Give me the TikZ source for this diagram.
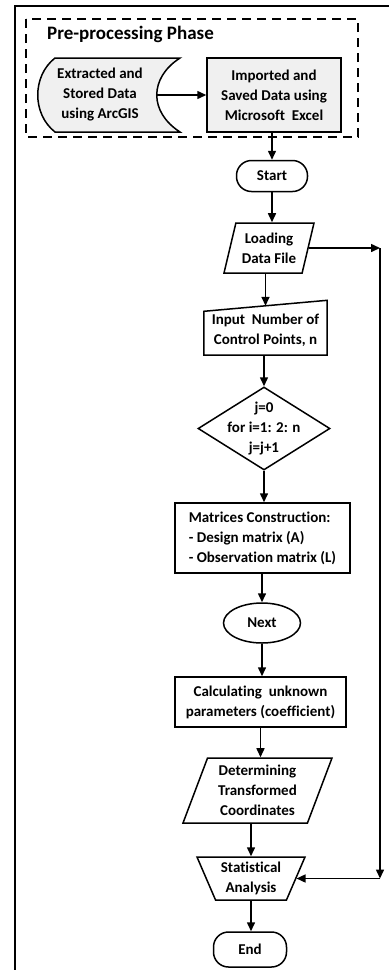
\documentclass[tikz,border=0pt]{standalone}
\usepackage{fontspec}
\setmainfont{Carlito}[Ligatures={NoCommon}]
\usetikzlibrary{shapes.geometric,arrows.meta,calc}

\tikzset{
  txt/.style={font=\bfseries\fontsize{15}{20}\selectfont, align=center},
  box/.style={txt, draw, line width=1.5pt, rectangle, inner sep=0pt},
  terminal/.style={box, rounded corners=15pt},
  ioshape/.style={txt, draw, line width=1.5pt, trapezium, trapezium stretches body, inner xsep=0pt, inner ysep=1pt},
  arr/.style={-{Triangle[length=9pt,width=8pt]}, line width=1.5pt},
}

\begin{document}
\begin{tikzpicture}[x=1pt,y=-1pt]
    \useasboundingbox (0,0) rectangle (389,970);
    % frame of the cell
    \draw[line width=1.8pt] (15,970) -- (15,6) -- (389,6);

    % pre-processing phase
    \draw[line width=1.6pt, dash pattern=on 9pt off 6pt] (26,19) rectangle (358,137);
    \node[txt, font=\bfseries\fontsize{19}{22}\selectfont, anchor=west, inner xsep=0pt] (phase) at (47,34) {Pre-processing Phase};
    \draw[line width=1.5pt, fill=black!6] (55,58) -- (180,58)
        .. controls (149,78) and (149,112) .. (180,132) -- (55,132)
        .. controls (32,114) and (32,76) .. (55,58) -- cycle;
    \node[txt] (stored) at (100,95) {Extracted and\\Stored Data\\using ArcGIS};
    \coordinate (storedR) at (157,95);
    \node[box, fill=black!6, minimum width=134pt, minimum height=74pt] (imported) at (274,95) {Imported and\\Saved Data using\\Microsoft\ \ Excel};

    % main flow
    \node[terminal, minimum width=71pt, minimum height=31pt] (start) at (272,176) {Start};
    \node[ioshape, trapezium left angle=70, trapezium right angle=110, minimum width=90pt, minimum height=50pt] (load) at (269,248) {Loading\\Data File};
    \node[txt, minimum width=123pt, minimum height=49pt, inner sep=0pt] (input) at (265.5,330.5) {Input\ \ Number of\\Control Points, n};
    \draw[line width=1.5pt] ($(input.north west)+(0,5.5)$) -- (input.south west)
        -- (input.south east) -- ($(input.north east)+(0,-5.5)$) -- cycle;
    \node[draw, diamond, line width=1.5pt, minimum width=132pt, minimum height=83pt, inner sep=0pt,
        label={[txt]center:{j=0\\for i=1: 2: n\\j=j+1}}] (loop) at (264,428.5) {};
    \node[box, minimum width=175pt, minimum height=70pt, align=left] (mat) at (262.5,538) {Matrices Construction:\\- Design matrix (A)\\- Observation matrix (L)};
    \node[txt, draw, ellipse, line width=1.5pt, minimum width=77pt, minimum height=40pt, inner sep=0pt] (next) at (262,623) {Next};
    \node[box, minimum width=171pt, minimum height=50pt] (calc) at (260.5,702) {Calculating\ \ unknown\\parameters (coefficient)};
    \node[ioshape, trapezium left angle=65, trapezium right angle=115, minimum width=149pt, minimum height=65pt] (det) at (257.5,790.5) {Determining\\Transformed\\Coordinates};
    \node[ioshape, trapezium left angle=118, trapezium right angle=118, minimum width=108pt, minimum height=43pt] (stat) at (251,878.5) {Statistical\\Analysis};
    \node[terminal, minimum width=73pt, minimum height=35pt] (stop) at (250,949.5) {End};

    \draw[arr] (storedR) -- (imported.west);
    \draw[arr] (imported.south -| start.north) -- (start.north);
    \draw[arr] (start.south) -- (start.south |- load.north);
    \draw[arr] (load.bottom side -| input.north) -- (input.north);
    \draw[arr] (input.south -| loop.north) -- (loop.north);
    \draw[arr] (loop.south) -- (loop.south |- mat.north);
    \draw[arr] (mat.south -| next.north) -- (next.north);
    \draw[arr] (next.south) -- (next.south |- calc.north);
    \draw[arr] (calc.south) -- (calc.south |- det.north);
    \draw[arr] (det.bottom side -| stat.north) -- (stat.north);
    \draw[arr] (stat.south) -- (stat.south |- stop.north);

    % return line on the right
    \coordinate (rail) at (380,0);
    \draw[arr] (load.east) -- (load.east -| rail) coordinate (railtop);
    \draw[arr] (railtop) -- (railtop |- stat.east) coordinate (railbot);
    \draw[arr] (railbot) -- (stat.east);
\end{tikzpicture}
\end{document}
